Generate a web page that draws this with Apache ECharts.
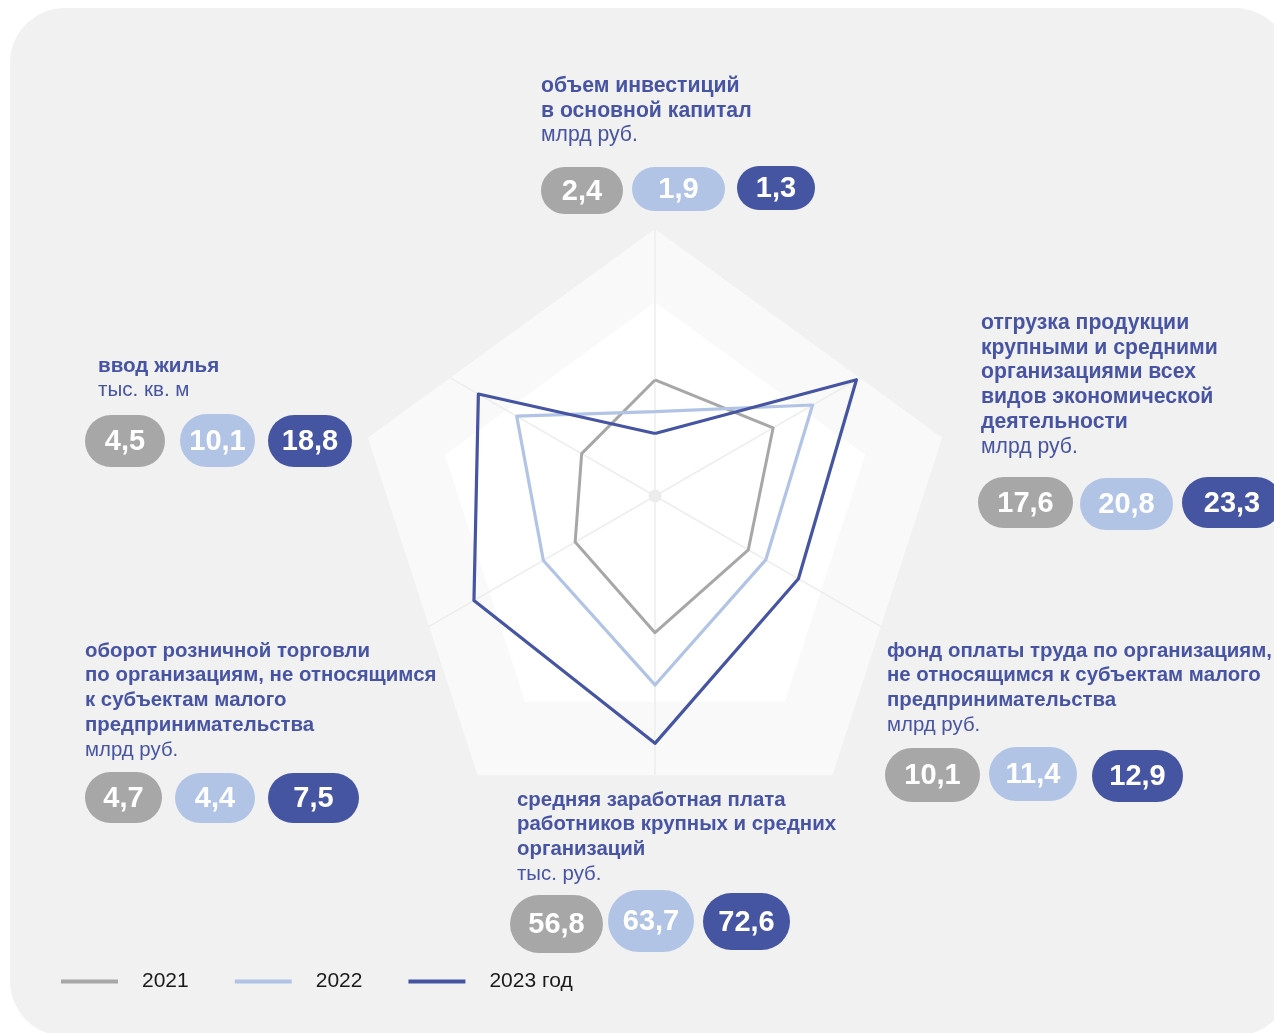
<!DOCTYPE html>
<html>
<head>
<meta charset="utf-8">
<script src="https://cdn.jsdelivr.net/npm/echarts@6/dist/echarts.min.js"></script>
<style>
html, body { margin: 0; padding: 0; background: #fff; }
#chart { width: 1274px; height: 1033px; }
</style>
</head>
<body>
<div id="chart"></div>
<script>
// indicators go counter-clockwise from the top (echarts radar order)
var titles = [
  ['объем инвестиций', 'в основной капитал'],
  ['ввод жилья'],
  ['оборот розничной торговли', 'по организациям, не относящимся', 'к субъектам малого', 'предпринимательства'],
  ['средняя заработная плата', 'работников крупных и средних', 'организаций'],
  ['фонд оплаты труда по организациям,', 'не относящимся к субъектам малого', 'предпринимательства'],
  ['отгрузка продукции', 'крупными и средними', 'организациями всех', 'видов экономической', 'деятельности']
]
var units = ['млрд руб.', 'тыс. кв. м', 'млрд руб.', 'тыс. руб.', 'млрд руб.', 'млрд руб.']
var years = ['2021', '2022', '2023 год']

// printed values
var values2021 = [2.4, 4.5, 4.7, 56.8, 10.1, 17.6]
var values2022 = [1.9, 10.1, 4.4, 63.7, 11.4, 20.8]
var values2023 = [1.3, 18.8, 7.5, 72.6, 12.9, 23.3]

// where the lines sit on each spoke, % of radar radius
var pos2021 = [43.3, 31.6, 34.4, 51.0, 40.2, 50.9]
var pos2022 = [31.5, 59.6, 48.1, 70.5, 47.7, 67.9]
var pos2023 = [23.3, 76.1, 78.0, 92.3, 61.8, 86.8]

var colors = ['#a7a7a7', '#b2c4e6', '#4655a2']
var textColor = '#4754a3'
var font = '"Liberation Sans", Arial, sans-serif'

// label blocks: title x, first baseline, font size, pills [x, y, w, h]
var layout = [
  { x: 541, y: 93, fs: 21.2, pills: [[541, 167, 82, 47], [632, 167, 93, 44], [737, 166, 78, 44]] },
  { x: 98, y: 373, fs: 20.6, pills: [[85, 415, 80, 52], [180, 414, 75, 53], [268, 415, 84, 52]] },
  { x: 85, y: 658, fs: 20.4, pills: [[85, 772, 77, 51], [175, 773, 80, 50], [268, 773, 91, 50]] },
  { x: 517, y: 807, fs: 20.4, pills: [[510, 895, 93, 58], [608, 890, 86, 62], [703, 893, 87, 57]] },
  { x: 887, y: 658, fs: 20.4, pills: [[885, 748, 95, 54], [989, 747, 88, 54], [1092, 750, 91, 52]] },
  { x: 981, y: 330, fs: 21.2, pills: [[978, 477, 95, 51], [1080, 478, 93, 52], [1182, 477, 100, 51]] }
]
var lineH = 24.8

var center = [655, 496]
var radius = 268
var outer = { cx: 655, cy: 531, r: 302 }
var inner = { cx: 655, cy: 523, r: 221 }

function fmt(v) {
  return v.toFixed(1).replace('.', ',')
}

function pentPoint(p, k) {
  var a = k * 2 * Math.PI / 5
  return [p.cx + p.r * Math.sin(a), p.cy - p.r * Math.cos(a)]
}

// spokes run from the radar centre to the edge of the outer pentagon
function spokeEnd(angle) {
  var dx = Math.sin(angle), dy = -Math.cos(angle), best = Infinity
  for (var k = 0; k < 5; k++) {
    var A = pentPoint(outer, k), B = pentPoint(outer, k + 1)
    var ex = B[0] - A[0], ey = B[1] - A[1]
    var den = dx * ey - dy * ex
    if (Math.abs(den) < 1e-9) continue
    var wx = A[0] - center[0], wy = A[1] - center[1]
    var t = (wx * ey - wy * ex) / den
    var s = (wx * dy - wy * dx) / den
    if (t > 0 && s >= -1e-6 && s <= 1 + 1e-6 && t < best) best = t
  }
  return [center[0] + best * dx, center[1] + best * dy]
}

var graphics = [{
  type: 'rect',
  z: -10,
  shape: { x: 10, y: 8, width: 1280, height: 1028, r: 55 },
  style: { fill: '#f1f1f1' }
}]

for (var i = 0; i < 6; i++) {
  var end = spokeEnd(i * Math.PI / 3)
  graphics.push({
    type: 'line',
    z: 1,
    shape: { x1: center[0], y1: center[1], x2: end[0], y2: end[1] },
    style: { stroke: '#ededed', lineWidth: 1.5 }
  })
}
graphics.push({
  type: 'circle',
  z: 1,
  shape: { cx: center[0], cy: center[1], r: 6.5 },
  style: { fill: '#ececec' }
})

var allValues = [values2021, values2022, values2023]
layout.forEach(function(l, idx) {
  titles[idx].forEach(function(t, j) {
    graphics.push({
      type: 'text',
      z: 5,
      x: l.x,
      y: l.y + j * lineH - 7,
      style: { text: t, font: 'bold ' + l.fs + 'px ' + font, fill: textColor, verticalAlign: 'middle' }
    })
  })
  graphics.push({
    type: 'text',
    z: 5,
    x: l.x,
    y: l.y + titles[idx].length * lineH - 7,
    style: { text: units[idx], font: l.fs + 'px ' + font, fill: textColor, verticalAlign: 'middle' }
  })
  l.pills.forEach(function(p, s) {
    graphics.push({
      type: 'rect',
      z: 5,
      shape: { x: p[0], y: p[1], width: p[2], height: p[3], r: p[3] / 2 },
      style: { fill: colors[s] }
    })
    graphics.push({
      type: 'text',
      z: 6,
      x: p[0] + p[2] / 2,
      y: p[1] + p[3] / 2 + 1,
      style: {
        text: fmt(allValues[s][idx]),
        font: 'bold 29px ' + font,
        fill: '#fff',
        align: 'center',
        verticalAlign: 'middle'
      }
    })
  })
})

function bgRadar(p, color) {
  return {
    center: [p.cx, p.cy],
    radius: p.r,
    shape: 'polygon',
    splitNumber: 1,
    indicator: [0, 1, 2, 3, 4].map(function() { return { min: 0, max: 1 } }),
    axisName: { show: false },
    axisLine: { show: false },
    axisTick: { show: false },
    axisLabel: { show: false },
    splitLine: { show: false },
    splitArea: { show: true, areaStyle: { color: [color] } }
  }
}

var chart = echarts.init(document.getElementById('chart'))
chart.setOption({
  animation: false,
  color: colors,
  legend: {
    left: 56,
    top: 966,
    icon: 'rect',
    itemWidth: 57,
    itemHeight: 4,
    itemGap: 46,
    data: years,
    textStyle: { fontSize: 21, color: '#1a1a1a', fontFamily: font, padding: [0, 0, 0, 19] }
  },
  graphic: graphics,
  radar: [
    bgRadar(outer, '#f9f9f9'),
    bgRadar(inner, '#ffffff'),
    {
      center: center,
      radius: radius,
      shape: 'polygon',
      splitNumber: 1,
      indicator: titles.map(function(t) { return { name: t.join(' '), min: 0, max: 100 } }),
      axisName: { show: false },
      axisLine: { show: false },
      axisTick: { show: false },
      axisLabel: { show: false },
      splitLine: { show: false },
      splitArea: { show: false }
    }
  ],
  series: [{
    type: 'radar',
    radarIndex: 2,
    symbol: 'none',
    data: [
      { name: years[0], value: pos2021, lineStyle: { color: colors[0], width: 3 }, itemStyle: { color: colors[0] } },
      { name: years[1], value: pos2022, lineStyle: { color: colors[1], width: 3.2 }, itemStyle: { color: colors[1] } },
      { name: years[2], value: pos2023, lineStyle: { color: colors[2], width: 3.2 }, itemStyle: { color: colors[2] } }
    ]
  }]
})
</script>
</body>
</html>
